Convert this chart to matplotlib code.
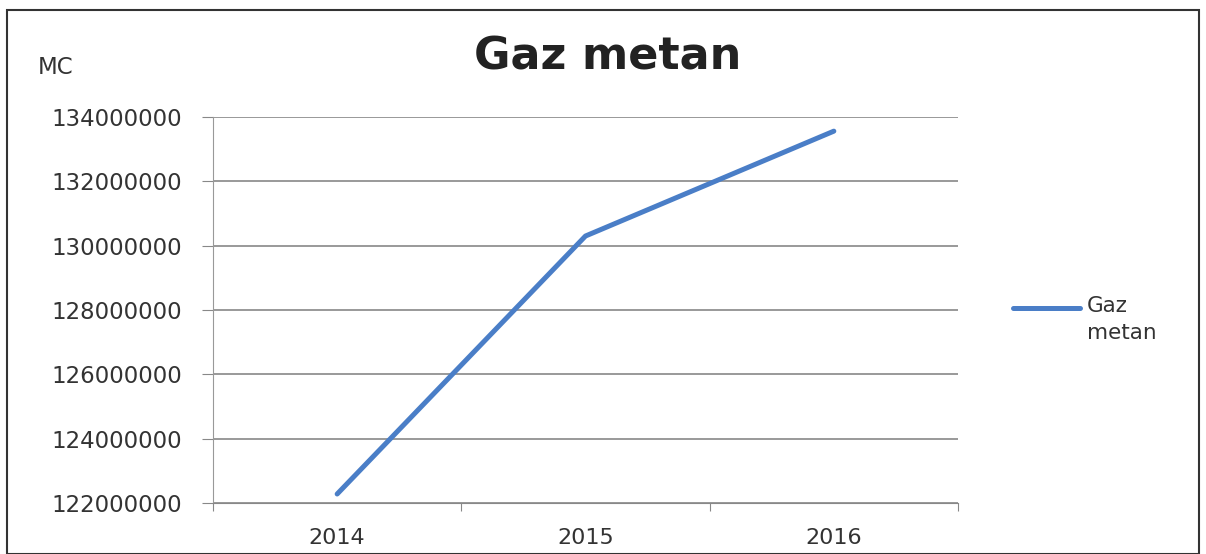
import matplotlib.pyplot as plt
from matplotlib.patches import Rectangle
from matplotlib.lines import Line2D

plt.rcParams['font.family'] = ['DejaVu Sans']

# data
years = ['2014', '2015', '2016']
gaz_metan = [122280000, 130300000, 133560000]
y_ticks = [122000000, 124000000, 126000000, 128000000, 130000000, 132000000, 134000000]

line_color = '#4a7ec7'
text_color = '#333333'

fig = plt.figure(figsize=(12.06, 5.54), dpi=100)
fig.patch.set_facecolor('white')
ax = fig.add_axes([213 / 1206, 1 - 503 / 554, 745 / 1206, 386 / 554])

x = range(len(years))
ax.plot(x, gaz_metan, color=line_color, linewidth=3.6, solid_capstyle='round')

ax.set_xlim(-0.5, 2.5)
ax.set_ylim(y_ticks[0], y_ticks[-1])
ax.set_yticks(y_ticks)
ax.set_yticklabels([str(v) for v in y_ticks])
ax.set_xticks([-0.5, 0.5, 1.5, 2.5])
ax.set_xticklabels([])
ax.set_xticks(list(x), minor=True)
ax.set_xticklabels(years, minor=True)
ax.tick_params(axis='x', which='minor', length=0, pad=18, labelsize=16, labelcolor=text_color)
ax.tick_params(axis='x', which='major', length=6, color='#888888', direction='out')
ax.tick_params(axis='y', length=8, color='#888888', pad=14, labelsize=16.5, labelcolor=text_color)

ax.grid(axis='y', color='#888888', linewidth=1.2)
ax.set_axisbelow(True)
for side in ['top', 'right']:
    ax.spines[side].set_visible(False)
ax.spines['left'].set_color('#999999')
ax.spines['bottom'].set_color('#888888')

fig.text(608 / 1206, 1 - 57 / 554, 'Gaz metan', fontsize=32, fontweight='bold',
         color='#222222', ha='center', va='center')
fig.text(38 / 1206, 1 - 68 / 554, 'MC', fontsize=16.5, color=text_color,
         ha='left', va='center')

# legend: handle lines up with the first row of the label
leg_y = 1 - 308 / 554
fig.add_artist(Line2D([1013 / 1206, 1080 / 1206], [leg_y, leg_y], color=line_color,
                      linewidth=3.6, solid_capstyle='round', transform=fig.transFigure))
fig.text(1087 / 1206, 1 - 296 / 554, 'Gaz\nmetan', fontsize=15.5, color=text_color,
         ha='left', va='top', linespacing=1.45)

# outer border of the chart
fig.patches.append(Rectangle((7 / 1206, 0), 1192 / 1206, 1 - 10 / 554,
                             transform=fig.transFigure, fill=False,
                             edgecolor='#333333', linewidth=1.5))

fig.savefig('out.png', dpi=100)
